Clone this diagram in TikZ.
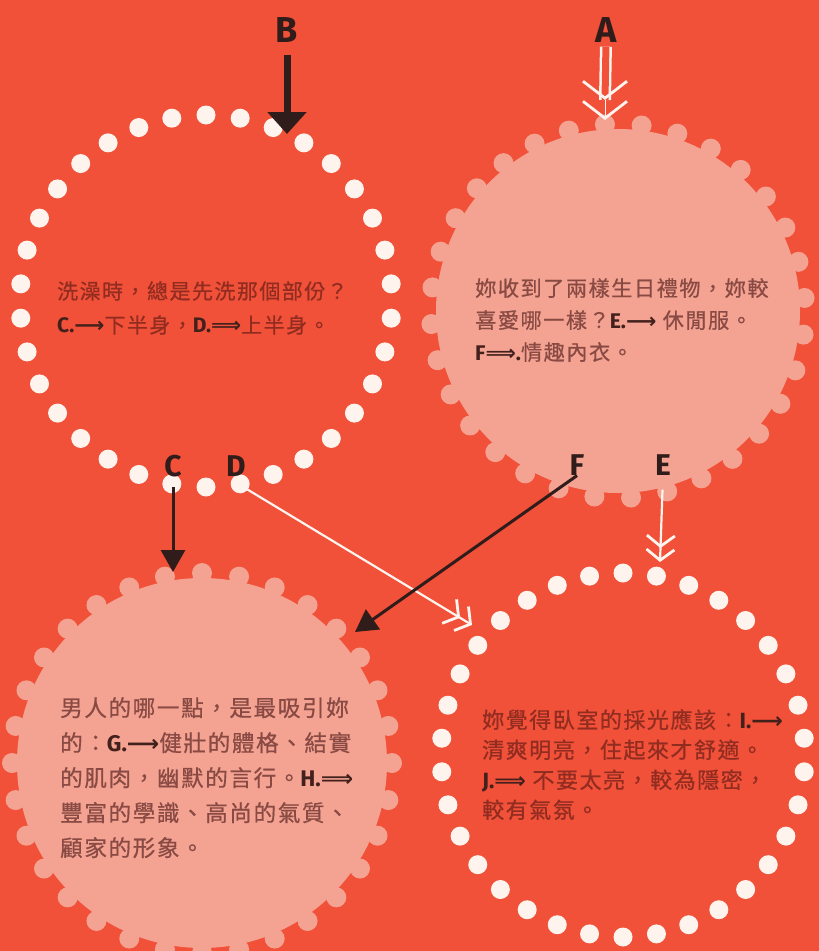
\documentclass[tikz,border=0pt]{standalone}
\usepackage{fontspec}
\newfontfamily\cjk[LetterSpace=7,FakeBold=0.6]{Noto Sans CJK TC}
\newfontfamily\labfont{Fira Sans}
\newfontfamily\symfont{DejaVu Sans}
\usetikzlibrary{arrows.meta, math}
\definecolor{bgred}{RGB}{241,80,57}
\definecolor{discpink}{RGB}{244,162,146}
\definecolor{dotwhite}{RGB}{255,243,238}
\definecolor{textonred}{RGB}{145,44,32}
\definecolor{textonpink}{RGB}{136,74,66}
\definecolor{boldink}{RGB}{66,32,28}
\definecolor{inkdark}{RGB}{48,28,26}
\newcommand{\sarr}{{\symfont\bfseries ⟶}}
\newcommand{\darr}{{\symfont\bfseries ⟹}}
\newcommand{\opt}[1]{{\labfont\bfseries\color{boldink}#1}}

\begin{document}
\begin{tikzpicture}[x=1pt,y=-1pt,
  ringdot/.style={fill=dotwhite},
  bumpdot/.style={fill=discpink},
  question/.style={anchor=north west,inner sep=0pt,align=left},
  startlabel/.style={font=\labfont\bfseries\fontsize{36}{36}\selectfont,text=inkdark,inner sep=0pt},
  optlabel/.style={font=\labfont\bfseries\fontsize{30}{30}\selectfont,text=inkdark,inner sep=0pt},
  blackarrow/.style={draw=inkdark,line width=3pt,-{Triangle[length=22pt,width=24pt]}},
  chevrons/.style={-{Straight Barb[length=#1/2.6,width=#1,line width=2.8pt] Straight Barb[length=#1/2.6,width=#1,line width=2.8pt]}},
  whitearrow/.style={draw=dotwhite,line width=2.2pt,chevrons=28pt}
]
\tikzmath{
\rTL=186;
\rTR=187;
\rBL=190;
\rBR=182;
}
\useasboundingbox (0,0) rectangle (819,951);
\fill[bgred] (0,0) rectangle (819,951);

\coordinate (TL) at (206,301);
\coordinate (TR) at (618,311);
\coordinate (BL) at (202,763);
\coordinate (BR) at (623,755);

% pink discs with bumps
\fill[discpink] (TR) circle[radius=\rTR-5];
\foreach \k in {0,...,31}
  \fill[bumpdot] (TR) ++(266+\k*360/32:\rTR) circle[radius=10pt];
\fill[discpink] (BL) circle[radius=\rBL-5];
\foreach \k in {0,...,31}
  \fill[bumpdot] (BL) ++(270+\k*360/32:\rBL) circle[radius=10pt];

% dotted rings
\foreach \k in {0,...,33}
  \fill[ringdot] (TL) ++(90+\k*360/34:\rTL) circle[radius=9.5pt];
\foreach \k in {0,...,33}
  \fill[ringdot] (BR) ++(90+\k*360/34:\rBR) circle[radius=9.5pt];

% questions
\node[question,text=textonred,font=\cjk\fontsize{21}{34}\selectfont] (qTL) at (57,281)
  {洗澡時，總是先洗那個部份？\\\opt{C.\sarr}下半身，\opt{D.\darr}上半身。};
\node[question,text=textonpink,font=\cjk\fontsize{21.2}{32}\selectfont] (qTR) at (475,278)
  {妳收到了兩樣生日禮物，妳較\\喜愛哪一樣？\opt{E.\sarr} 休閒服。\\\opt{F\darr.}情趣內衣。};
\node[question,text=textonpink,font=\cjk\fontsize{22.6}{35}\selectfont] (qBL) at (60,697)
  {男人的哪一點，是最吸引妳\\的：\opt{G.\sarr}健壯的體格、結實\\的肌肉，幽默的言行。\opt{H.\darr}\\豐富的學識、高尚的氣質、\\顧家的形象。};
\node[question,text=textonred,font=\cjk\fontsize{22}{30}\selectfont] (qBR) at (482,709)
  {妳覺得臥室的採光應該：\opt{I.\sarr}\\清爽明亮，住起來才舒適。\\\opt{J.\darr} 不要太亮，較為隱密，\\較有氣氛。};

% labels
\node[startlabel] (B) at (287,30) {B};
\node[startlabel] (A) at (606,30) {A};
\node[optlabel] (C) at (173,466) {C};
\node[optlabel] (D) at (236,466) {D};
\node[optlabel] (F) at (577,465) {F};
\node[optlabel] (E) at (663,465) {E};

\coordinate (Bend) at (287,134);
\coordinate (Agap) at (605,100);
\coordinate (Aend) at (605,120);
\coordinate (Cend) at (173,572);
\coordinate (Dstart) at (240,485);
\coordinate (Dend) at (472,625);
\coordinate (Fend) at (355,632);
\coordinate (Eend) at (660,562);

% arrows
\draw[draw=inkdark,line width=7pt,-{Triangle[length=22pt,width=38pt]},shorten <=12pt] (B.south) -- (Bend);
\draw[draw=dotwhite,double=bgred,double distance=7pt,line width=2.5pt,shorten <=4pt] (A.south) -- (Agap);
\draw[draw=dotwhite,line width=0.1pt,chevrons=44pt] (Agap) -- (Aend);
\draw[blackarrow,shorten <=10pt] (C.south) -- (Cend);
\draw[whitearrow] (Dstart) -- (Dend);
\draw[blackarrow] (F.south) -- (Fend);
\draw[whitearrow,shorten <=14pt] (E.south) -- (Eend);
\end{tikzpicture}
\end{document}
